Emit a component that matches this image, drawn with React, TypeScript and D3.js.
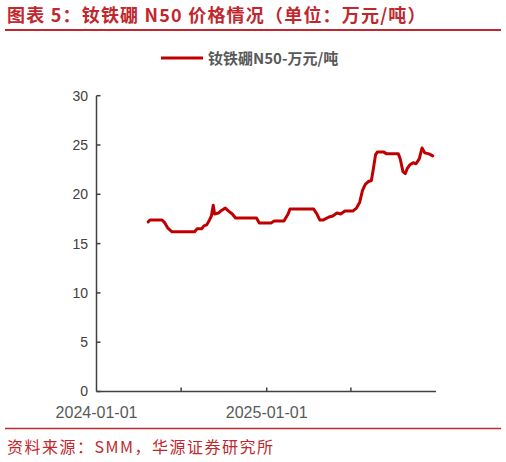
import React from 'react';
import * as d3 from 'd3';

// 钕铁硼N50 价格（万元/吨）
const dates = [
  '2024-04-21', '2024-04-25', '2024-05-21', '2024-05-27', '2024-06-02', '2024-06-11',
  '2024-07-30', '2024-08-04', '2024-08-14', '2024-08-19', '2024-08-25', '2024-08-31',
  '2024-09-04', '2024-09-08', '2024-09-11', '2024-09-19', '2024-09-24', '2024-10-04',
  '2024-10-11', '2024-10-19', '2024-10-26', '2024-12-10', '2024-12-16', '2025-01-11',
  '2025-01-17', '2025-02-07', '2025-02-16', '2025-02-20', '2025-04-12', '2025-04-19',
  '2025-04-25', '2025-05-03', '2025-05-15', '2025-05-23', '2025-06-01', '2025-06-09',
  '2025-06-18', '2025-07-05', '2025-07-13', '2025-07-20', '2025-07-26', '2025-08-01',
  '2025-08-08', '2025-08-14', '2025-08-18', '2025-08-23', '2025-08-27', '2025-09-09',
  '2025-09-16', '2025-10-11', '2025-10-15', '2025-10-21', '2025-10-26', '2025-10-30',
  '2025-11-05', '2025-11-12', '2025-11-18', '2025-11-25', '2025-12-01', '2025-12-07',
  '2025-12-16', '2025-12-24',
];
const prices = [
  17.2, 17.4, 17.4, 17.1, 16.6, 16.2,
  16.2, 16.5, 16.5, 16.8, 16.9, 17.4,
  17.8, 18.9, 18.0, 18.1, 18.3, 18.6,
  18.3, 18.0, 17.6, 17.6, 17.1, 17.1,
  17.3, 17.3, 18.0, 18.5, 18.5, 18.0,
  17.4, 17.4, 17.7, 17.8, 18.1, 18.0,
  18.3, 18.3, 18.6, 19.2, 20.4, 21.0,
  21.3, 21.4, 22.5, 24.0, 24.3, 24.3,
  24.1, 24.1, 23.6, 22.3, 22.1, 22.6,
  23.0, 23.2, 23.1, 23.6, 24.7, 24.2,
  24.1, 23.9,
];
const yTicks = [0, 5, 10, 15, 20, 25, 30];
const xTicks = ['2024-07-01', '2025-01-01', '2025-07-01'];
const xLabels = ['2024-01-01', '2025-01-01'];

const W = 506;
const H = 462;
const RED = '#c0282e';
const LINE = '#c00000';
const AXIS = '#404040';
const TXT = '#595959';
const FONT = '"Liberation Sans", Arial, "Noto Sans CJK SC", sans-serif';
const CJK = '"Noto Sans CJK SC", "Liberation Sans", sans-serif';

const parse = d3.timeParse('%Y-%m-%d');

export default function App() {
  const data = dates.map((d, i) => ({ date: parse(d) as Date, value: prices[i] }));

  const x = d3.scaleTime()
    .domain([parse('2024-01-01') as Date, parse('2025-12-31') as Date])
    .range([96.5, 436]);
  const y = d3.scaleLinear().domain([0, 30]).range([391.5, 95.7]);

  const line = d3.line<{ date: Date; value: number }>()
    .x(d => x(d.date))
    .y(d => y(d.value));

  const [x0, x1] = x.range();
  const y0 = y(0);

  return (
    <svg width={W} height={H} style={{ position: 'absolute', left: 0, top: 0, background: '#fff' }}>
      {/* 标题 */}
      <text x={7} y={22} fill={RED} fontFamily={CJK} fontWeight="bold" fontSize={18}
        letterSpacing={1.2}>
        图表 5：钕铁硼 N50 价格情况（单位：万元/吨）
      </text>
      <line x1={5} x2={501} y1={30} y2={30} stroke={RED} strokeWidth={2} />

      {/* 图例 */}
      <line x1={161} x2={203} y1={58} y2={58} stroke={LINE} strokeWidth={3} />
      <text x={208} y={63.5} fill={TXT} fontFamily={CJK} fontWeight="bold" fontSize={15}>
        钕铁硼N50-万元/吨
      </text>

      {/* y 轴 */}
      <line x1={x0} x2={x0} y1={y(30)} y2={y0} stroke={AXIS} strokeWidth={1.5} />
      {yTicks.map(t => (
        <g key={t}>
          <line x1={x0} x2={x0 + 4} y1={y(t)} y2={y(t)} stroke={AXIS} strokeWidth={1.5} />
          <text x={88} y={y(t)} dy="0.35em" textAnchor="end" fill={AXIS}
            fontFamily={FONT} fontSize={14}>{t}</text>
        </g>
      ))}

      {/* x 轴 */}
      <line x1={x0} x2={x1} y1={y0} y2={y0} stroke={AXIS} strokeWidth={1.5} />
      {xTicks.map(t => (
        <line key={t} x1={x(parse(t) as Date)} x2={x(parse(t) as Date)} y1={y0} y2={y0 - 4}
          stroke={AXIS} strokeWidth={1.5} />
      ))}
      {xLabels.map(t => (
        <text key={t} x={x(parse(t) as Date)} y={417.5} textAnchor="middle" fill={TXT}
          fontFamily={FONT} fontSize={16}>{t}</text>
      ))}

      {/* 价格线 */}
      <path d={line(data) ?? ''} fill="none" stroke={LINE} strokeWidth={3}
        strokeLinejoin="round" strokeLinecap="round" />

      {/* 资料来源 */}
      <line x1={5} x2={501} y1={428.5} y2={428.5} stroke={RED} strokeWidth={1.5} />
      <text x={7} y={453} fill={RED} fontFamily={CJK} fontSize={16} letterSpacing={1.5}>
        资料来源：SMM，华源证券研究所
      </text>
    </svg>
  );
}
